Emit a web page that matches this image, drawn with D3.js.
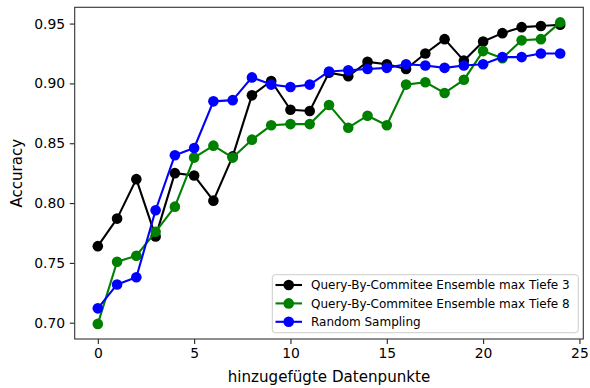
<!DOCTYPE html>
<html>
<head>
<meta charset="utf-8">
<script src="https://cdn.jsdelivr.net/npm/d3@7"></script>
<style>
  body { margin: 0; background: #fff; }
  svg { display: block; font-family: "DejaVu Sans", sans-serif; }
</style>
</head>
<body>
<svg id="chart"></svg>
<script>
const xValues = d3.range(0, 25);

const qbcTiefe3 = [0.764, 0.787, 0.820, 0.772, 0.825, 0.823, 0.802, 0.839, 0.890, 0.902,
    0.878, 0.877, 0.909, 0.906, 0.918, 0.916, 0.912, 0.925, 0.937, 0.919,
    0.935, 0.942, 0.947, 0.948, 0.949];

const qbcTiefe8 = [0.699, 0.751, 0.756, 0.776, 0.797, 0.838, 0.848, 0.838, 0.853, 0.865,
    0.866, 0.866, 0.882, 0.863, 0.873, 0.865, 0.899, 0.901, 0.892, 0.903,
    0.927, 0.921, 0.936, 0.937, 0.951];

const randomSampling = [0.712, 0.732, 0.738, 0.794, 0.840, 0.846, 0.885, 0.886, 0.905, 0.899,
    0.897, 0.899, 0.910, 0.911, 0.912, 0.913, 0.916, 0.915, 0.913, 0.915,
    0.916, 0.922, 0.922, 0.925, 0.925];

const seriesNames = [
    "Query-By-Commitee Ensemble max Tiefe 3",
    "Query-By-Commitee Ensemble max Tiefe 8",
    "Random Sampling"
];
const seriesColors = ["black", "green", "blue"];
const xTicks = [0, 5, 10, 15, 20, 25];
const yTicks = [0.70, 0.75, 0.80, 0.85, 0.90, 0.95];

const width = 590;
const height = 388;
const margin = { top: 7.3, right: 6.7, bottom: 49, left: 74.7 };

const series = [qbcTiefe3, qbcTiefe8, randomSampling].map(function (vals, i) {
    return {
        name: seriesNames[i],
        color: seriesColors[i],
        points: vals.map(function (v, j) { return { x: xValues[j], y: v }; })
    };
});

// matplotlib style 5% margins
const xExt = d3.extent(xValues);
const xPad = (xExt[1] - xExt[0]) * 0.05;
const allY = [].concat(qbcTiefe3, qbcTiefe8, randomSampling);
const yExt = d3.extent(allY);
const yPad = (yExt[1] - yExt[0]) * 0.05;

const x = d3.scaleLinear()
    .domain([xExt[0] - xPad, xExt[1] + xPad])
    .range([margin.left, width - margin.right]);

const y = d3.scaleLinear()
    .domain([yExt[0] - yPad, yExt[1] + yPad])
    .range([height - margin.bottom, margin.top]);

const svg = d3.select("#chart").attr("width", width).attr("height", height);

const plot = svg.append("g").attr("class", "plot");

const line = d3.line()
    .x(function (d) { return x(d.x); })
    .y(function (d) { return y(d.y); });

series.forEach(function (s) {
    const g = plot.append("g").attr("class", "series");
    g.append("path")
        .datum(s.points)
        .attr("fill", "none")
        .attr("stroke", s.color)
        .attr("stroke-width", 2.1)
        .attr("stroke-linejoin", "round")
        .attr("d", line);
    g.selectAll("circle")
        .data(s.points)
        .enter()
        .append("circle")
        .attr("cx", function (d) { return x(d.x); })
        .attr("cy", function (d) { return y(d.y); })
        .attr("r", 5.3)
        .attr("fill", s.color);
});

// axes
const xAxis = svg.append("g")
    .attr("transform", "translate(0," + (height - margin.bottom) + ")")
    .call(d3.axisBottom(x).tickValues(xTicks).tickSize(4.9).tickPadding(4.6).tickFormat(d3.format("d")));

const yAxis = svg.append("g")
    .attr("transform", "translate(" + margin.left + ",0)")
    .call(d3.axisLeft(y).tickValues(yTicks).tickSize(4.9).tickPadding(4.6).tickFormat(d3.format(".2f")));

[xAxis, yAxis].forEach(function (a) {
    a.select(".domain").remove();
    a.selectAll(".tick line").attr("stroke", "#222").attr("stroke-width", 1.1);
    a.selectAll(".tick text")
        .attr("fill", "#000")
        .style("font-family", "DejaVu Sans")
        .style("font-size", "13.9px");
});

// frame
svg.append("rect")
    .attr("x", margin.left)
    .attr("y", margin.top)
    .attr("width", width - margin.left - margin.right)
    .attr("height", height - margin.top - margin.bottom)
    .attr("fill", "none")
    .attr("stroke", "#333")
    .attr("stroke-width", 1.1);

svg.append("text")
    .attr("x", (margin.left + width - margin.right) / 2)
    .attr("y", 382)
    .attr("text-anchor", "middle")
    .style("font-size", "15.1px")
    .text("hinzugefügte Datenpunkte");

svg.append("text")
    .attr("transform", "translate(22," + ((margin.top + height - margin.bottom) / 2) + ") rotate(-90)")
    .attr("text-anchor", "middle")
    .style("font-size", "15.1px")
    .text("Accuracy");

// legend
const legend = svg.append("g").attr("class", "legend");
legend.append("rect")
    .attr("x", 272.3)
    .attr("y", 274.7)
    .attr("width", 306)
    .attr("height", 58)
    .attr("rx", 3)
    .attr("ry", 3)
    .attr("fill", "white")
    .attr("fill-opacity", 0.8)
    .attr("stroke", "#ccc")
    .attr("stroke-width", 1);

const item = legend.selectAll("g.item")
    .data(series)
    .enter()
    .append("g")
    .attr("class", "item")
    .attr("transform", function (d, i) { return "translate(0," + (285 + i * 18.4) + ")"; });

item.append("line")
    .attr("x1", 275.5)
    .attr("x2", 302)
    .attr("stroke", function (d) { return d.color; })
    .attr("stroke-width", 2.1);

item.append("circle")
    .attr("cx", 288.7)
    .attr("r", 5.3)
    .attr("fill", function (d) { return d.color; });

item.append("text")
    .attr("x", 311)
    .attr("dy", "0.36em")
    .style("font-size", "12px")
    .text(function (d) { return d.name; });
</script>
</body>
</html>
